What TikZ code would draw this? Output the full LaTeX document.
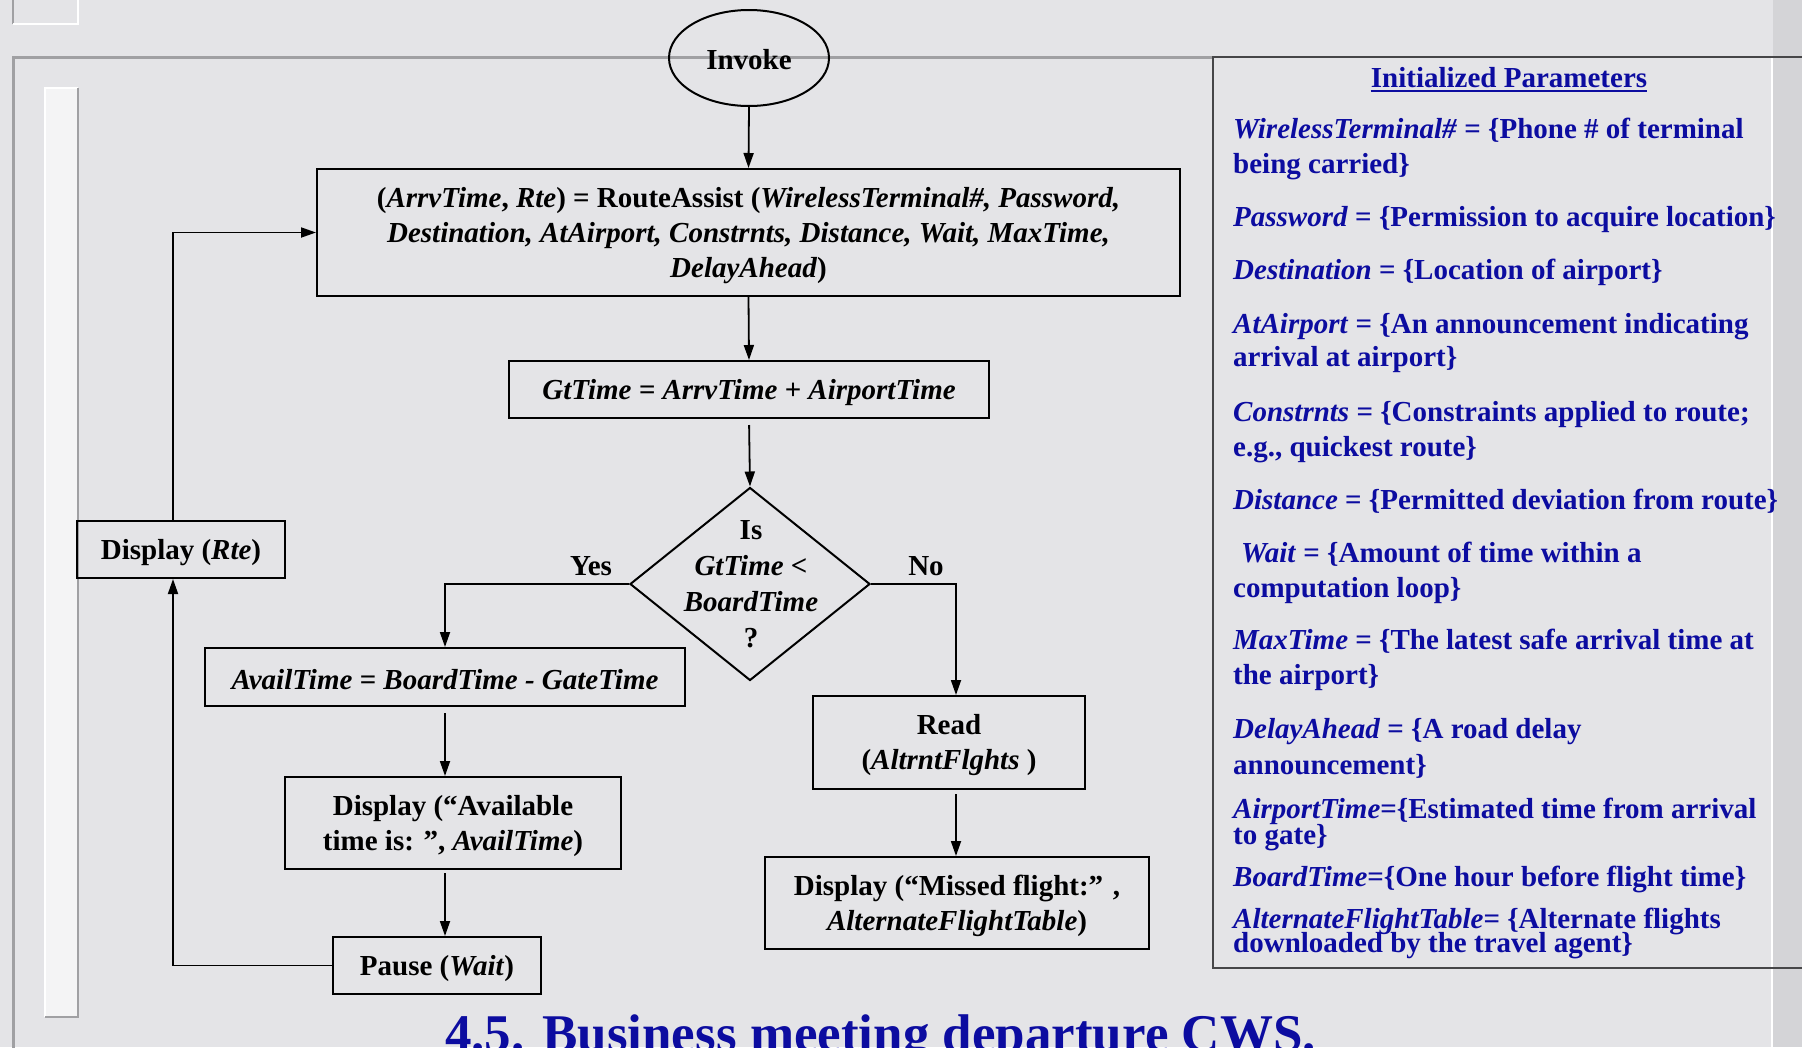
\documentclass[tikz,border=0pt]{standalone}
\usepackage{fontspec}
\setmainfont{Liberation Serif}
\usetikzlibrary{shapes.geometric,arrows.meta}
\definecolor{bg}{RGB}{228,228,231}
\definecolor{bgout}{RGB}{212,212,215}
\definecolor{ptblue}{RGB}{12,12,160}
\definecolor{framegray}{RGB}{160,160,163}
\definecolor{paneldark}{RGB}{70,70,72}
\newcommand{\fcfont}{\fontsize{29}{35}\selectfont\bfseries}
\newcommand{\ptfont}{\fontsize{29}{34}\selectfont\bfseries}
\tikzset{
  fcbox/.style={draw=black, line width=2pt, rectangle, inner sep=0pt},
  fctext/.style={inner sep=0pt, align=center, font=\fcfont},
  conn/.style={line width=1.8pt, -{Triangle[length=15pt,width=10pt]}},
  ptext/.style={anchor=base west, inner sep=0pt, text=ptblue, font=\ptfont},
  lbl/.style={inner sep=0pt, font=\fcfont},
}
\begin{document}
\begin{tikzpicture}[x=1pt,y=-1pt]
\useasboundingbox (0,0) rectangle (1802,1047);
\clip (0,0) rectangle (1802,1047);
% background
\fill[bg] (0,0) rectangle (1802,1047);
\fill[bgout] (1773,0) rectangle (1802,1047);
% slide decorations
\draw[framegray, line width=3pt] (13,1050) -- (13,57) -- (1213,57);
\fill[white!60!bg] (45,88) rectangle (78,1017);
\draw[white, line width=2pt] (45,1017) -- (45,88) -- (78,88);
\draw[framegray, line width=2pt] (78,88) -- (78,1017) -- (45,1017);
\draw[framegray, line width=2pt] (13,-2) -- (13,24);
\draw[white, line width=2pt] (13,24) -- (78,24) -- (78,-2);
\draw[white, line width=2pt] (1772,57) -- (1772,1050);
% parameter panel
\draw[paneldark, line width=2.5pt] (1810,57) -- (1213,57) -- (1213,968) -- (1810,968);

% flowchart nodes
\node[draw=black, line width=2pt, ellipse, minimum width=160pt, minimum height=96pt, inner sep=0pt] (inv) at (749,58) {};
\node[fctext] (invt) at ([yshift=-2pt]inv.center) {Invoke};
\node[fcbox, minimum width=863pt, minimum height=127pt] (ra) at (748.5,232.5) {};
\node[fctext] (rat) at ([yshift=-3pt]ra.center)
  {(\textit{ArrvTime}, \textit{Rte}) = RouteAssist (\textit{WirelessTerminal\#, Password,}\\
   \textit{Destination, AtAirport, Constrnts, Distance, Wait, MaxTime,}\\
   \textit{DelayAhead})};
\node[fcbox, minimum width=480pt, minimum height=57pt] (gt) at (749,389.5) {};
\node[fctext] (gtt) at ([yshift=-3pt]gt.center) {\textit{GtTime = ArrvTime + AirportTime}};
\node[draw=black, line width=2pt, diamond, minimum width=240pt, minimum height=193pt, inner sep=0pt] (dia) at (750,584) {};
\node[inner sep=0pt, align=center, font=\fontsize{29}{36}\selectfont\bfseries] (dt) at (751,584.5)
  {Is\\\textit{GtTime} <\\\textit{BoardTime}\\?};
\node[lbl] (yes) at (591,566) {Yes};
\node[lbl] (no) at (926,566) {No};
\node[fcbox, minimum width=480pt, minimum height=58pt] (av) at (445,677) {};
\node[fctext] (avt) at ([yshift=-3pt]av.center) {\textit{AvailTime = BoardTime - GateTime}};
\node[fcbox, minimum width=336pt, minimum height=92pt] (da) at (453,823) {};
\node[fctext] (dat) at ([yshift=-3pt]da.center) {Display (“Available\\time is: ”, \textit{AvailTime})};
\node[fcbox, minimum width=208pt, minimum height=57pt] (pz) at (437,965.5) {};
\node[fctext] (pzt) at ([yshift=-3pt]pz.center) {Pause (\textit{Wait})};
\node[fcbox, minimum width=208pt, minimum height=57pt] (dr) at (181,549.5) {};
\node[fctext] (drt) at ([yshift=-3pt]dr.center) {Display (\textit{Rte})};
\node[fcbox, minimum width=272pt, minimum height=93pt] (rd) at (949,742.5) {};
\node[fctext] (rdt) at ([yshift=-3pt]rd.center) {Read\\(\textit{AltrntFlghts} )};
\node[fcbox, minimum width=384pt, minimum height=92pt] (dm) at (957,903) {};
\node[fctext] (dmt) at ([yshift=-3pt]dm.center) {Display (“Missed flight:” ,\\\textit{AlternateFlightTable})};

% connectors
\draw[conn] (inv.south) -- (ra.north);
\draw[conn] (ra.south) -- (gt.north);
\draw[conn, shorten <=6pt] (gt.south) -- (dia.north);
\draw[conn] (dia.west) -| (av.north);
\draw[conn] (dia.east) -| ([xshift=7pt]rd.north);
\draw[conn, shorten <=6pt] (av.south) -- (av.south |- da.north);
\draw[conn, shorten <=3pt] (av.south |- da.south) -- (av.south |- pz.north);
\draw[conn, shorten <=4pt] ([xshift=7pt]rd.south) -- ([xshift=7pt]rd.south |- dm.north);
\draw[conn] (pz.west) -| ([xshift=-8pt]dr.south);
\draw[conn] ([xshift=-8pt]dr.north) |- (ra.west);

% parameter panel text
\node[anchor=base, inner sep=0pt, text=ptblue, font=\ptfont] (ip) at (1509,87) {Initialized Parameters};
\draw[ptblue, line width=2pt] ([yshift=-3.5pt]ip.base west) -- ([yshift=-3.5pt]ip.base east);
\node[ptext] (p1) at (1233,138) {\textit{WirelessTerminal\#} = \{Phone \# of terminal};
\node[ptext] (p2) at (1233,173) {being carried\}};
\node[ptext] (p3) at (1233,226) {\textit{Password} = \{Permission to acquire location\}};
\node[ptext] (p4) at (1233,279) {\textit{Destination} = \{Location of airport\}};
\node[ptext] (p5) at (1233,333) {\textit{AtAirport} = \{An announcement indicating};
\node[ptext] (p6) at (1233,366) {arrival at airport\}};
\node[ptext] (p7) at (1233,421) {\textit{Constrnts} = \{Constraints applied to route;};
\node[ptext] (p8) at (1233,456) {e.g., quickest route\}};
\node[ptext] (p9) at (1233,509) {\textit{Distance} = \{Permitted deviation from route\}};
\node[ptext] (p10) at (1241,562) {\textit{Wait} = \{Amount of time within a};
\node[ptext] (p11) at (1233,597) {computation loop\}};
\node[ptext] (p12) at (1233,649) {\textit{MaxTime} = \{The latest safe arrival time at};
\node[ptext] (p13) at (1233,684) {the airport\}};
\node[ptext] (p14) at (1233,738) {\textit{DelayAhead} = \{A road delay};
\node[ptext] (p15) at (1233,774) {announcement\}};
\node[ptext] (p16) at (1233,818) {\textit{AirportTime}=\{Estimated time from arrival};
\node[ptext] (p17) at (1233,844) {to gate\}};
\node[ptext] (p18) at (1233,886) {\textit{BoardTime}=\{One hour before flight time\}};
\node[ptext] (p19) at (1233,928) {\textit{AlternateFlightTable}= \{Alternate flights};
\node[ptext] (p20) at (1233,952) {downloaded by the travel agent\}};

% slide title
\node[anchor=base west, inner sep=0pt, text=ptblue, font=\fontsize{53}{60}\selectfont\bfseries] (title) at (445,1051) {4.5. Business meeting departure CWS.};
\end{tikzpicture}
\end{document}
